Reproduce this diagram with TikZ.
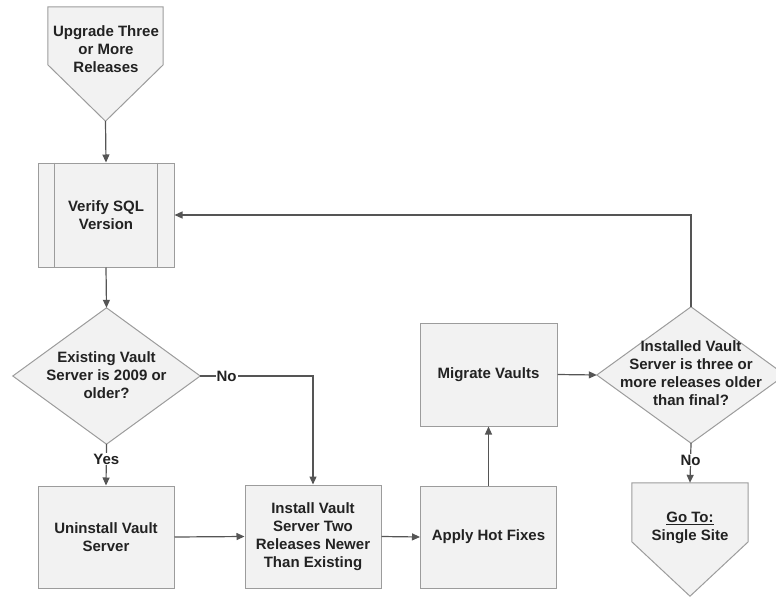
\documentclass[tikz,border=0pt]{standalone}
\usepackage{fontspec}
\setmainfont{Liberation Sans}
\usetikzlibrary{arrows.meta,calc,backgrounds}
\definecolor{boxfill}{HTML}{F2F2F2}
\definecolor{boxline}{HTML}{9C9C9C}
\definecolor{conn}{HTML}{555555}
\definecolor{txt}{HTML}{222222}
\begin{document}
\begin{tikzpicture}[x=1pt,y=-1pt,
  every node/.style={font=\fontsize{15}{18}\selectfont\bfseries, text=txt, align=center, inner sep=0pt},
  box/.style={draw=boxline, fill=boxfill, line width=1pt, minimum width=136pt, minimum height=102pt},
  area/.style={draw=none, minimum width=#1},
  outline/.style={draw=boxline, fill=boxfill, line width=1pt, line join=miter},
  arr/.style={draw=conn, line width=1.2pt, -{Triangle[length=8pt,width=7pt]}},
  lbl/.style={fill=white, inner sep=1pt}]
\useasboundingbox (0,0) rectangle (776,597);

% start off-page connector
\node[area=115pt, minimum height=114pt] (start) at (105.5,64) {};
\begin{scope}[on background layer]
\draw[outline] (start.north west) -- (start.north east) -- ($(start.north east)+(0,58)$) -- (start.south) -- ($(start.north west)+(0,58)$) -- cycle;
\end{scope}
\node (startlbl) at (106,49) {Upgrade Three\\or More\\Releases};

% verify SQL (predefined process)
\node[box, minimum height=104pt] (verify) at (106,215) {Verify SQL\\Version};
\draw[boxline, line width=1pt] ([xshift=17pt]verify.north west) -- ([xshift=17pt]verify.south west);
\draw[boxline, line width=1pt] ([xshift=-17pt]verify.north east) -- ([xshift=-17pt]verify.south east);

% decision 1
\node[area=187pt, minimum height=136pt] (d1) at (106.5,376) {};
\begin{scope}[on background layer]
\draw[outline] (d1.north) -- (d1.east) -- (d1.south) -- (d1.west) -- cycle;
\end{scope}
\node (d1lbl) at (106.5,375) {Existing Vault\\Server is 2009 or\\older?};

% process boxes
\node[box] (uninst) at (106,537) {Uninstall Vault\\Server};
\node[box, minimum height=103pt] (install) at (313,536.5) {Install Vault\\Server Two\\Releases Newer\\Than Existing};
\node[box] (apply) at (488.5,537) {Apply Hot Fixes};
\node[box, minimum width=137pt, minimum height=103pt] (migrate) at (488.5,374.5) {Migrate Vaults};

% decision 2
\node[area=188pt, minimum height=136pt] (d2) at (691,375) {};
\begin{scope}[on background layer]
\draw[outline] (d2.north) -- (d2.east) -- (d2.south) -- (d2.west) -- cycle;
\end{scope}
\node (d2lbl) at (691,373) {Installed Vault\\Server is three or\\more releases older\\than final?};

% go to off-page connector
\node[area=116pt, minimum height=113pt] (goto) at (690,539.5) {};
\begin{scope}[on background layer]
\draw[outline] (goto.north west) -- (goto.north east) -- ($(goto.north east)+(0,59)$) -- (goto.south) -- ($(goto.north west)+(0,59)$) -- cycle;
\end{scope}
\node (gotolbl) at (690,528) {\underline{Go To:}\\Single Site};

% connectors
\draw[arr] (start.south) -- (verify.north);
\draw[arr] (verify.south) -- (d1.north);
\draw[arr] (d1.south) -- node[lbl, pos=0.36] {Yes} (uninst.north);
\draw[arr] (d1.east) -| node[lbl, pos=0.117] {No} (install.north);
\draw[arr] (uninst.east) -- (install.west);
\draw[arr] (install.east) -- (apply.west);
\draw[arr] (apply.north) -- (migrate.south);
\draw[arr] (migrate.east) -- (d2.west);
\draw[arr] (d2.south) -- node[lbl, pos=0.43] {No} (goto.north);
\draw[arr] (d2.north) |- (verify.east);
\end{tikzpicture}
\end{document}
